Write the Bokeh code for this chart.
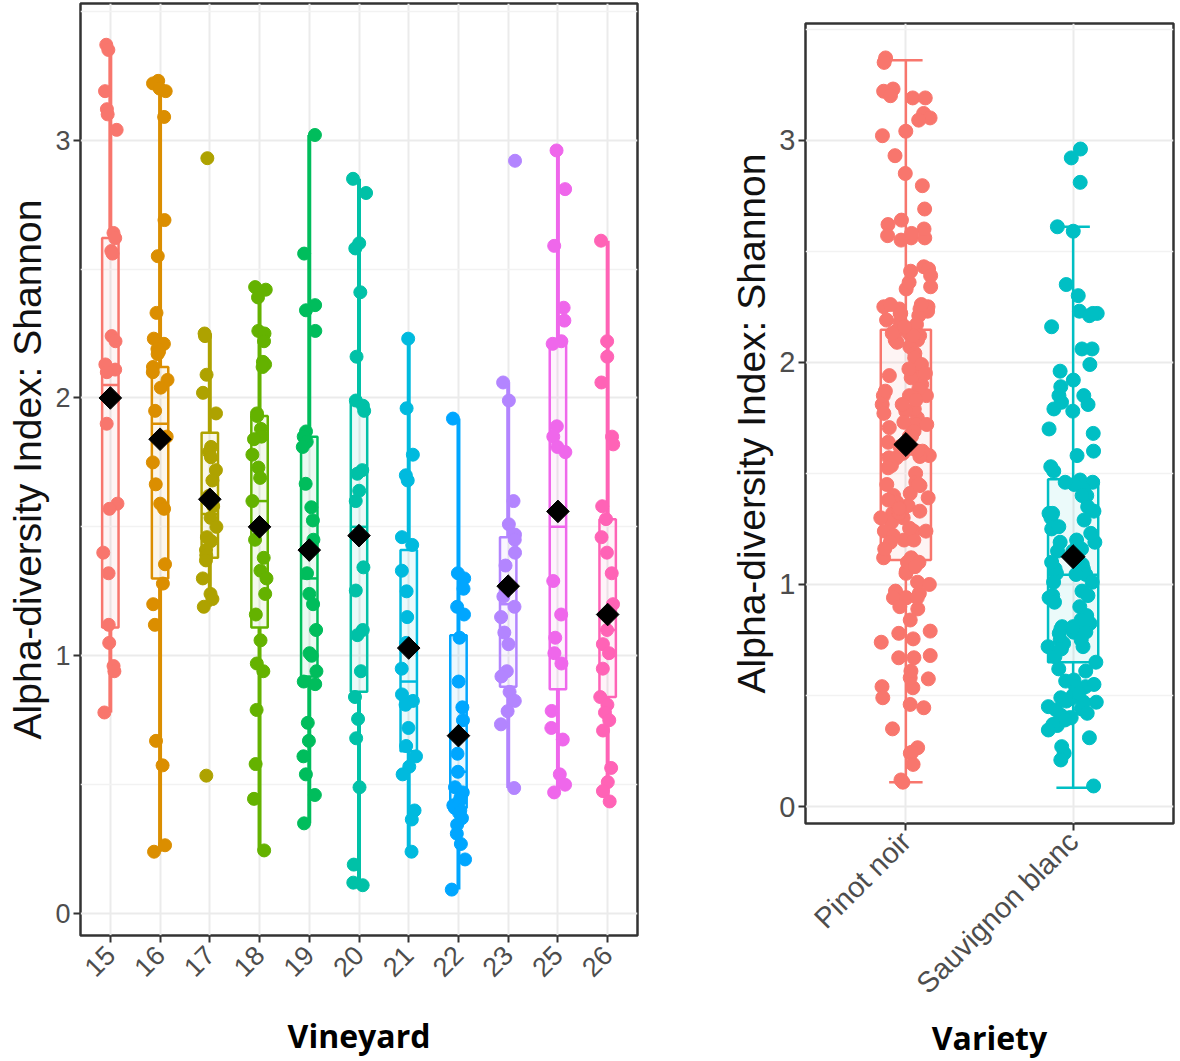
import math
from bokeh.plotting import figure
from bokeh.layouts import row
from bokeh.models import ColumnDataSource, FactorRange, FixedTicker, Range1d
from bokeh.transform import jitter, dodge
from bokeh.embed import file_html
from bokeh.resources import INLINE

# ---------------- data ----------------
vineyards = ["15", "16", "17", "18", "19", "20", "21", "22", "23", "25", "26"]
vineyard_colors = ["#F8766D", "#DB8E00", "#AEA200", "#64B200", "#00BD5C", "#00C1A7",
                   "#00BADE", "#00A6FF", "#B385FF", "#EF67EB", "#FF63B6"]
vineyard_variety = ["Pinot noir"] * 6 + ["Sauvignon blanc"] * 5

v15 = [3.37, 3.35, 3.19, 3.12, 3.10, 3.04, 2.64, 2.62, 2.57, 2.56, 2.24, 2.22, 2.13, 2.11,
       2.10, 1.90, 1.59, 1.57, 1.40, 1.32, 1.12, 1.05, 0.96, 0.94, 0.78]
v16 = [3.23, 3.22, 3.20, 3.19, 3.09, 2.69, 2.55, 2.33, 2.23, 2.21, 2.19, 2.18, 2.17, 2.12,
       2.10, 2.07, 2.04, 1.95, 1.85, 1.75, 1.665, 1.59, 1.57, 1.355, 1.28, 1.20, 1.12, 0.67,
       0.575, 0.265, 0.24]
v17 = [2.93, 2.25, 2.24, 2.09, 2.02, 1.94, 1.81, 1.79, 1.77, 1.72, 1.68, 1.62, 1.58, 1.535,
       1.50, 1.46, 1.445, 1.41, 1.39, 1.37, 1.30, 1.24, 1.22, 1.19, 0.535]
v18 = [2.43, 2.42, 2.39, 2.26, 2.25, 2.22, 2.14, 2.13, 2.12, 1.94, 1.93, 1.88, 1.85, 1.84,
       1.78, 1.73, 1.69, 1.60, 1.45, 1.38, 1.33, 1.30, 1.24, 1.16, 1.06, 0.97, 0.94, 0.79,
       0.58, 0.445, 0.245]
v19 = [3.02, 2.56, 2.36, 2.34, 2.26, 1.87, 1.85, 1.83, 1.81, 1.667, 1.576, 1.525, 1.45, 1.32,
       1.24, 1.20, 1.10, 1.01, 1.00, 0.94, 0.90, 0.89, 0.74, 0.67, 0.61, 0.54, 0.46, 0.35]
v20 = [2.85, 2.795, 2.60, 2.58, 2.41, 2.16, 1.99, 1.97, 1.95, 1.72, 1.706, 1.64, 1.60, 1.343,
       1.253, 1.10, 1.08, 0.94, 0.84, 0.755, 0.68, 0.49, 0.19, 0.12, 0.11]
v21 = [2.23, 1.96, 1.78, 1.70, 1.68, 1.46, 1.43, 1.33, 1.25, 1.15, 1.05, 0.95, 0.85, 0.825,
       0.81, 0.72, 0.65, 0.61, 0.57, 0.54, 0.40, 0.365, 0.24]
v22 = [1.92, 1.32, 1.30, 1.26, 1.19, 1.16, 1.07, 0.90, 0.80, 0.75, 0.62, 0.55, 0.49, 0.47,
       0.45, 0.44, 0.42, 0.41, 0.40, 0.39, 0.37, 0.345, 0.31, 0.27, 0.21, 0.093]
v23 = [2.92, 2.06, 1.99, 1.60, 1.51, 1.47, 1.45, 1.40, 1.35, 1.23, 1.19, 1.15, 1.09, 1.045,
       0.94, 0.92, 0.86, 0.825, 0.785, 0.734, 0.487]
v25 = [2.96, 2.81, 2.59, 2.35, 2.30, 2.22, 2.21, 1.89, 1.85, 1.81, 1.79, 1.29, 1.16, 1.07,
       1.01, 0.97, 0.786, 0.72, 0.675, 0.54, 0.50, 0.47]
v26 = [2.61, 2.22, 2.16, 2.06, 1.85, 1.82, 1.58, 1.53, 1.46, 1.40, 1.32, 1.20, 1.10, 1.045,
       1.01, 0.95, 0.84, 0.81, 0.78, 0.75, 0.71, 0.565, 0.51, 0.475, 0.435]
shannon_by_vineyard = [v15, v16, v17, v18, v19, v20, v21, v22, v23, v25, v26]

# box-plot statistics per vineyard
vy_lower = [0.78, 0.24, 1.19, 0.245, 0.35, 0.11, 0.24, 0.093, 0.487, 0.47, 0.435]
vy_q1 = [1.11, 1.30, 1.38, 1.11, 0.92, 0.86, 0.63, 0.41, 0.88, 0.87, 0.84]
vy_median = [2.05, 1.90, 1.55, 1.60, 1.30, 1.50, 0.90, 0.55, 1.20, 1.50, 1.10]
vy_q3 = [2.62, 2.12, 1.865, 1.93, 1.85, 1.98, 1.41, 1.08, 1.46, 2.21, 1.53]
vy_upper = [3.37, 3.23, 2.25, 2.43, 3.02, 2.85, 2.23, 1.92, 2.06, 2.96, 2.61]
vy_mean = [2.00, 1.84, 1.607, 1.50, 1.41, 1.466, 1.03, 0.69, 1.27, 1.56, 1.16]

varieties = ["Pinot noir", "Sauvignon blanc"]
variety_colors = ["#F8766D", "#00BFC4"]
va_lower = [0.11, 0.085]
va_q1 = [1.11, 0.65]
va_median = [1.585, 1.044]
va_q3 = [2.146, 1.473]
va_upper = [3.36, 2.61]
va_mean = [1.63, 1.125]

y_ticks = [0, 1, 2, 3]
y_minor = [0.5, 1.5, 2.5, 3.5]

TICK_FONT = "Liberation Sans"
GREY = "#4D4D4D"


def style(p, xlabel, tick_size):
    p.background_fill_color = "white"
    p.border_fill_color = "white"
    p.outline_line_color = "#333333"
    p.outline_line_width = 2.5
    p.xgrid.grid_line_color = "#EBEBEB"
    p.xgrid.grid_line_width = 2
    p.ygrid.grid_line_color = "#EBEBEB"
    p.ygrid.grid_line_width = 2
    p.ygrid.minor_grid_line_color = "#F2F2F2"
    p.ygrid.minor_grid_line_width = 1.5
    p.yaxis.ticker = FixedTicker(ticks=y_ticks, minor_ticks=y_minor)
    for ax in (p.xaxis, p.yaxis):
        ax.axis_line_color = None
        ax.major_tick_line_color = "#333333"
        ax.major_tick_line_width = 2
        ax.major_tick_out = 7
        ax.major_tick_in = 0
        ax.minor_tick_line_color = None
        ax.major_label_text_font = TICK_FONT
        ax.major_label_text_font_size = tick_size
        ax.major_label_text_color = GREY
        ax.major_label_standoff = 3
    p.xaxis.major_label_standoff = 8
    p.yaxis.axis_label = "Alpha-diversity Index: Shannon"
    p.yaxis.axis_label_text_font = TICK_FONT
    p.yaxis.axis_label_text_font_size = "39px"
    p.yaxis.axis_label_text_font_style = "normal"
    p.yaxis.axis_label_text_color = "#111111"
    p.yaxis.axis_label_standoff = 3
    p.xaxis.major_label_orientation = math.pi / 4
    p.xaxis.axis_label = xlabel
    p.xaxis.axis_label_text_font = "Open Sans"
    p.xaxis.axis_label_text_font_size = "32px"
    p.xaxis.axis_label_text_font_style = "bold"
    p.xaxis.axis_label_text_color = "black"
    p.frame_align = False


def draw(p, factors, colors, lower, q1, med, q3, upper, mean, pt_x, pt_y, pt_c,
         box_w, whisk_w, box_lw, pt_size, dia_size, caps):
    src = ColumnDataSource(dict(x=factors, c=colors, lo=lower, q1=q1, med=med,
                                q3=q3, up=upper, mean=mean))
    p.segment(x0="x", x1="x", y0="lo", y1="q1", line_color="c", line_width=whisk_w, source=src)
    p.segment(x0="x", x1="x", y0="q3", y1="up", line_color="c", line_width=whisk_w, source=src)
    if caps:
        for col in ("lo", "up"):
            p.segment(x0=dodge("x", -caps, range=p.x_range), x1=dodge("x", caps, range=p.x_range),
                      y0=col, y1=col, line_color="c", line_width=whisk_w, source=src)
    p.vbar(x="x", bottom="q1", top="q3", width=box_w, fill_color="c", fill_alpha=0.08,
           line_color="c", line_width=box_lw, source=src)
    p.segment(x0=dodge("x", -box_w / 2, range=p.x_range), x1=dodge("x", box_w / 2, range=p.x_range),
              y0="med", y1="med", line_color="c", line_width=box_lw, source=src)
    psrc = ColumnDataSource(dict(x=pt_x, y=pt_y, c=pt_c))
    p.scatter(x=jitter("x", width=0.3, range=p.x_range), y="y", size=pt_size,
              fill_color="c", line_color="c", source=psrc)
    p.scatter(x="x", y="mean", marker="square", angle=math.pi / 4, size=dia_size,
              fill_color="black", line_color="black", source=src)


# ---------------- left panel: Vineyard ----------------
p1 = figure(x_range=FactorRange(factors=vineyards, range_padding=0.1,
                                range_padding_units="absolute"),
            y_range=Range1d(-0.085, 3.53), width=660, height=1061,
            output_backend="svg", toolbar_location=None,
            min_border_left=80, min_border_right=23, min_border_top=3, min_border_bottom=126)
style(p1, "Vineyard", "27px")
p1.xaxis.axis_label_standoff = 26

px, py, pc = [], [], []
for name, col, vals in zip(vineyards, vineyard_colors, shannon_by_vineyard):
    for v in vals:
        px.append(name); py.append(v); pc.append(col)
draw(p1, vineyards, vineyard_colors, vy_lower, vy_q1, vy_median, vy_q3, vy_upper, vy_mean,
     px, py, pc, box_w=0.33, whisk_w=4, box_lw=2.5, pt_size=13, dia_size=16, caps=0)

# ---------------- right panel: Variety ----------------
p2 = figure(x_range=FactorRange(factors=varieties, range_padding=0.1,
                                range_padding_units="absolute"),
            y_range=Range1d(-0.076, 3.525), width=520, height=1061,
            output_backend="svg", toolbar_location=None,
            min_border_left=145, min_border_right=7, min_border_top=23, min_border_bottom=236)
style(p2, "Variety", "29px")
p2.xaxis.major_label_standoff = 6
p2.xaxis.axis_label_standoff = 2

qx, qy, qc = [], [], []
for var, vals in zip(vineyard_variety, shannon_by_vineyard):
    col = variety_colors[varieties.index(var)]
    for v in vals:
        qx.append(var); qy.append(v); qc.append(col)
draw(p2, varieties, variety_colors, va_lower, va_q1, va_median, va_q3, va_upper, va_mean,
     qx, qy, qc, box_w=0.3, whisk_w=2.5, box_lw=2.5, pt_size=14, dia_size=17, caps=0.1)

layout = row(p1, p2)
open("out.html", "w").write(file_html(layout, INLINE))
